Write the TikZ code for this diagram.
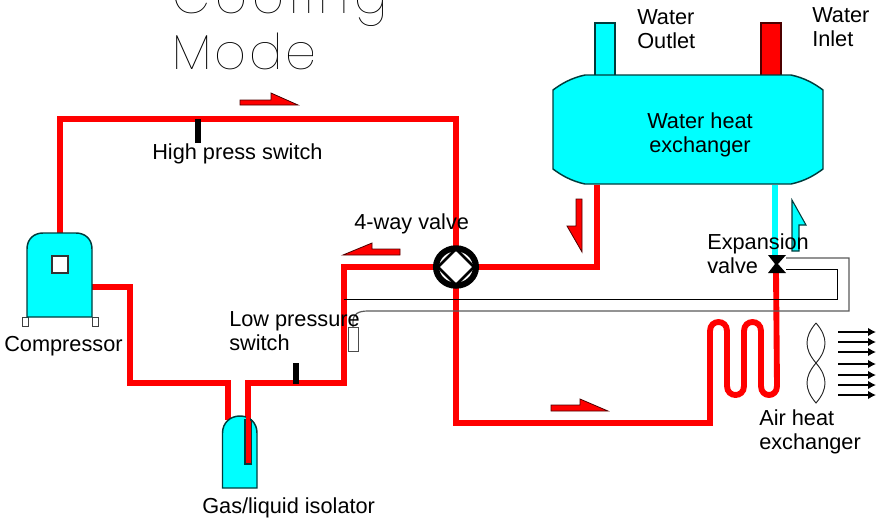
\documentclass[tikz,border=0pt]{standalone}
\usepackage{fontspec}
\setmainfont{Liberation Sans}
\newfontfamily\titlefont[LetterSpace=6]{Poppins Thin}
\newfontfamily\titlefontb[LetterSpace=10.5]{Poppins Thin}
\usetikzlibrary{arrows.meta}
\definecolor{pipered}{RGB}{255,0,0}
\definecolor{tank}{RGB}{0,255,255}
\definecolor{edge}{RGB}{0,60,60}
\tikzset{
 pipe/.style={draw=pipered,line width=4.4pt,line join=miter},
 coldpipe/.style={draw=tank,line width=4.4pt},
 body/.style={fill=tank,draw=edge,line width=1.1pt},
 lbl/.style={font=\fontsize{16.3}{18}\selectfont,inner sep=0pt,align=left,anchor=west,text=black},
 titlelbl/.style={inner sep=0pt,anchor=base west,text=black},
 flowarrow/.style={fill=pipered,draw=black!70!red,line width=.6pt},
 coldarrow/.style={fill=tank,draw=edge,line width=.8pt},
 ctrl/.style={draw=black,line width=.6pt},
 ctrlb/.style={draw=black!65,line width=.9pt},
 wind/.style={draw=black,line width=2.2pt,-{Latex[length=6pt,width=6.5pt]}},
 fanblade/.style={draw=black!85,line width=.7pt},
}
\begin{document}
\begin{tikzpicture}[x=.75pt,y=-.75pt]
\useasboundingbox (0,0) rectangle (878,519);
% titles
\node[titlelbl,font=\titlefontb\fontsize{37}{40}\selectfont] (t1) at (172,13) {Cooling};
\node[titlelbl,font=\titlefont\fontsize{37}{40}\selectfont] (t2) at (172,69) {Mode};
% anchors
\coordinate (cTop) at (60,233);
\coordinate (c1) at (60,119);
\coordinate (c2) at (456,119);
\coordinate (cOut) at (92,287);
\coordinate (c3) at (130,287);
\coordinate (c4) at (130,383);
\coordinate (c5) at (228,383);
\coordinate (isoIn) at (228,420);
\coordinate (c6) at (248,383);
\coordinate (c7) at (344,383);
\coordinate (c8) at (344,267);
\coordinate (c9) at (597,267);
\coordinate (hxL) at (597,185);
\coordinate (hxR) at (775,185);
\coordinate (c10) at (456,423);
\coordinate (c11) at (710,423);
\coordinate (vTop) at (775,257);
\coordinate (vBot) at (776,272);
% water pipes
\draw[fill=tank,draw=edge,line width=1.1pt] (595,23) rectangle (615,76);
\draw[fill=pipered,draw=black!70!red,line width=1.1pt] (761,23) rectangle (781,76);
% water heat exchanger
\path[body] (585,75) -- (791,75) .. controls (805,78) and (815,84) .. (823,90) -- (823,169) .. controls (815,175) and (805,181) .. (791,184) -- (585,184) .. controls (571,181) and (561,175) .. (553,169) -- (553,90) .. controls (561,84) and (571,78) .. (585,75) -- cycle;
\node[lbl,align=center,anchor=center] (hxt) at (700,135) {Water heat\\exchanger};
% pipes
\draw[pipe] (cTop) -- (c1) -- (c2) -- (456,267);
\draw[pipe] (cOut) -- (c3) -- (c4) -- (c5) -- (isoIn);
\draw[pipe] (456,267) -- (c8) -- (c7) -- (c6) -- (248,420);
\draw[pipe] (456,267) -- (c9) -- (hxL);
\draw[pipe] (456,267) -- (c10) -- (c11) -- (710,331)
  .. controls (710,319) and (727,319) .. (727,331) -- (727,386)
  .. controls (727,398) and (744,398) .. (744,386) -- (744,331)
  .. controls (744,319) and (761,319) .. (761,331) -- (761,386)
  .. controls (761,398) and (777,398) .. (777,386) -- (vBot);
\draw[coldpipe] (hxR) -- (vTop);
% compressor
\draw[fill=white,draw=black!75,line width=.6pt] (22,317) rectangle (28,326);
\draw[fill=white,draw=black!75,line width=.6pt] (92,317) rectangle (98,326);
\path[body] (27,317) -- (27,249) .. controls (27,239) and (34,233) .. (43,233) -- (76,233) .. controls (85,233) and (92,239) .. (92,249) -- (92,317) -- cycle;
\draw[fill=white,draw=black!80,line width=1pt] (52,256) rectangle (68,273);
% isolator
\path[body] (222.5,488) -- (222.5,433) .. controls (222.5,423) and (230,416) .. (240,416) .. controls (250,416) and (257,423) .. (257,433) -- (257,488) -- cycle;
\draw[draw=edge,line width=.8pt,fill=pipered] (245,420) rectangle (251.5,464);
\draw[pipe,line width=3.6pt] (248,410) -- (248,462);
% switches
\fill[black] (195,119) rectangle (201,143);
\fill[black] (293,363) rectangle (299,384);
% control lines
\draw[ctrlb] (786,258) -- (849,258) -- (849,311) -- (368,311) .. controls (358,311) and (353,314) .. (353,322) -- (353,327);
\draw[ctrl] (786,269) -- (837,269) -- (837,299) -- (344,299);
\draw[fill=white,draw=black!70,line width=.6pt] (348,327) rectangle (358,351);
% 4-way valve
\node[circle,draw=black,line width=4.6pt,fill=white,minimum size=28pt,inner sep=0pt,xscale=1.07] (valve) at (456,267) {};
\draw[black,line width=2pt] (valve.center) ++(-18,0) -- ++(18,-18) -- ++(18,18) -- ++(-18,18) -- cycle;
% expansion valve
\fill[black] (768,255) -- (786,255) -- (778,264) -- (786,273) -- (768,273) -- (775,264) -- cycle;
% flow arrows
\draw[flowarrow] (240,100) -- (271,100) -- (271,93) -- (298,105) -- (240,105) -- cycle;
\draw[flowarrow] (343,255) -- (372,243) -- (372,249) -- (400,249) -- (400,255) -- cycle;
\draw[flowarrow] (551,405) -- (580,405) -- (580,399) -- (608,411) -- (551,411) -- cycle;
\draw[flowarrow] (582,199) -- (576,199) -- (576,226) -- (567,226) -- (582,252) -- cycle;
\draw[coldarrow] (792,200) -- (806,225) -- (799,225) -- (799,251) -- (792,251) -- cycle;
% fan
\draw[fanblade] (816,323) .. controls (804,337) and (804,349) .. (816,363) .. controls (828,349) and (828,337) .. (816,323);
\draw[fanblade] (816,363) .. controls (804,377) and (804,389) .. (816,403) .. controls (828,389) and (828,377) .. (816,363);
% wind
\foreach \yy/\nm in {332/a,342/b,352/c,364/d,375/e,385/f,395/g}{
  \coordinate (w\nm s) at (838,\yy);
  \coordinate (w\nm e) at (876,\yy);
  \draw[wind] (w\nm s) -- (w\nm e);
}
% labels
\node[lbl] (lo) at (637,29) {Water\\Outlet};
\node[lbl] (li) at (812,27) {Water\\Inlet};
\node[lbl] (lh) at (152,154) {High press switch};
\node[lbl] (l4) at (354,224) {4-way valve};
\node[lbl] (le) at (707,254) {Expansion\\valve};
\node[lbl] (ll) at (229,331) {Low pressure\\switch};
\node[lbl] (lc) at (4,346) {Compressor};
\node[lbl] (lg) at (202,508) {Gas/liquid isolator};
\node[lbl] (la) at (759,432) {Air heat\\exchanger};
\end{tikzpicture}
\end{document}
